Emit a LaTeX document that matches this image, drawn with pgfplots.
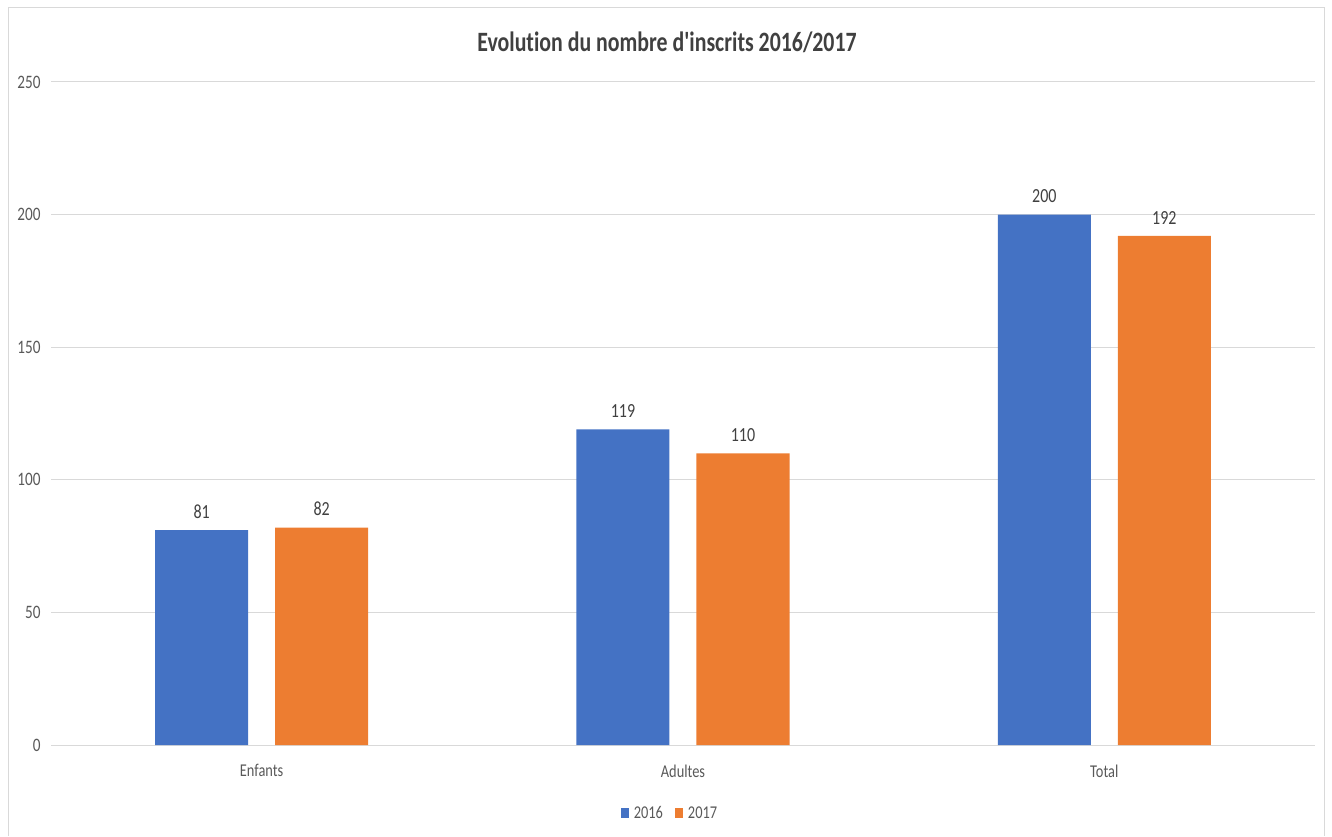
\documentclass[border=0pt]{standalone}
\usepackage{fontspec}
\setmainfont{Carlito}[Ligatures={NoCommon}]
\usepackage{graphicx}
\usepackage{pgfplots}
\pgfplotsset{compat=1.18}
\definecolor{bleu}{HTML}{4472C4}
\definecolor{orange}{HTML}{ED7D31}
\definecolor{grille}{HTML}{D9D9D9}
\definecolor{texte}{HTML}{595959}
\definecolor{sombre}{HTML}{404040}
\newcommand{\sq}[1]{\scalebox{0.8}[1]{#1}}

\begin{document}
\begin{tikzpicture}
\path[use as bounding box] (0,0) rectangle (1332pt,836pt);
\draw[color=grille, line width=1pt] (8pt,0pt) -- (8pt,828pt) -- (1324pt,828pt) -- (1324pt,0pt);
\node[color=sombre, font=\fontsize{28}{32}\selectfont\bfseries] at (667pt,794pt) {\scalebox{0.78}[1]{Evolution du nombre d\textquotesingle inscrits 2016/2017}};
\begin{axis}[
    at={(51pt,91pt)}, anchor=south west,
    scale only axis,
    width=1264pt, height=663pt,
    /pgf/number format/assume math mode=true,
    ybar=27pt, bar width=93pt,
    xmin=-0.5, xmax=2.5,
    ymin=0, ymax=250,
    xtick={0,1,2},
    xticklabels={\sq{Enfants},\sq{Adultes},\sq{Total}},
    ytick={0,50,...,250},
    yticklabel={\sq{\pgfmathprintnumber{\tick}}},
    axis line style={draw=none},
    major tick length=0pt,
    ymajorgrids,
    grid style={color=grille, line width=1pt},
    tick label style={color=texte},
    yticklabel style={font=\fontsize{19}{22}\selectfont, anchor=east, xshift=-7pt},
    xticklabel style={font=\fontsize{18}{21}\selectfont, yshift=-16pt},
    nodes near coords={\sq{\pgfmathprintnumber{\pgfplotspointmeta}}},
    nodes near coords style={color=sombre, font=\fontsize{20}{23}\selectfont, yshift=8pt},
    legend style={at={(0.4897,-0.1026)}, anchor=center, draw=none, fill=none,
        legend columns=2, font=\fontsize{18}{21}\selectfont, text=texte,
        /tikz/every odd column/.append style={column sep=3pt},
        /tikz/every even column/.append style={column sep=10pt}},
    legend image code/.code={\fill[#1] (0pt,-5pt) rectangle (8pt,5pt);},
]
\addplot[fill=bleu, draw=none] coordinates {(0,81) (1,119) (2,200)};
\addlegendentry{\sq{2016}}
\addplot[fill=orange, draw=none] coordinates {(0,82) (1,110) (2,192)};
\addlegendentry{\sq{2017}}
\end{axis}
\end{tikzpicture}
\end{document}
